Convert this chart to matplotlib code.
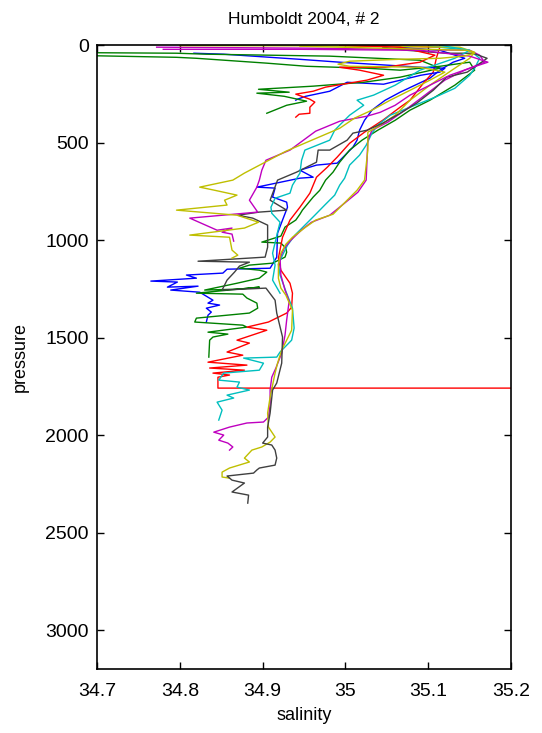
import matplotlib
matplotlib.use('Agg')
import matplotlib.pyplot as plt

# perfiles (salinidad, presion)
blue_a = [(35.033, 0), (35.114, 26), (35.144, 67), (35.130, 87), (35.114, 128), (35.102, 169),
          (35.084, 205), (35.066, 241), (35.048, 282), (35.032, 333), (35.023, 385), (35.017, 436),
          (35.014, 487), (35.009, 523), (34.990, 605), (34.965, 615), (34.945, 641), (34.961, 677),
          (34.945, 682), (34.893, 728), (34.915, 733), (34.912, 779), (34.929, 805), (34.930, 831),
          (34.924, 897), (34.918, 964), (34.917, 1087), (34.909, 1144), (34.857, 1149), (34.852, 1169),
          (34.808, 1179), (34.820, 1195), (34.765, 1210), (34.797, 1215), (34.785, 1241), (34.822, 1236),
          (34.789, 1256), (34.824, 1267), (34.840, 1308), (34.834, 1323), (34.848, 1333), (34.832, 1349),
          (34.838, 1369), (34.834, 1385), (34.832, 1420)]

green_a = [(34.660, 51), (34.796, 62), (34.820, 67), (34.905, 92), (34.953, 108), (35.026, 118),
           (35.066, 128), (35.114, 108), (35.150, 87), (35.156, 128), (35.132, 205), (35.102, 282),
           (35.078, 333), (35.060, 385), (35.039, 436), (35.020, 487), (35.005, 538), (34.993, 600),
           (34.985, 651), (34.976, 692), (34.969, 744), (34.961, 779), (34.948, 846), (34.945, 867),
           (34.940, 897), (34.927, 933), (34.922, 979), (34.899, 1010), (34.922, 1015), (34.928, 1041),
           (34.929, 1062), (34.927, 1087), (34.912, 1118), (34.884, 1128), (34.872, 1144), (34.896, 1154),
           (34.905, 1164), (34.896, 1195), (34.869, 1221), (34.830, 1256), (34.872, 1251), (34.896, 1241),
           (34.820, 1272), (34.876, 1277), (34.881, 1297), (34.893, 1323), (34.894, 1349), (34.884, 1374),
           (34.820, 1400), (34.818, 1420), (34.876, 1436), (34.881, 1446), (34.834, 1472), (34.858, 1482),
           (34.840, 1497), (34.836, 1513), (34.835, 1600)]

red_a = [(35.017, 0), (35.114, 10), (35.110, 62), (35.106, 138), (35.094, 195), (35.078, 282),
         (35.066, 318), (35.045, 385), (35.023, 446), (35.005, 503), (34.990, 574), (34.978, 626),
         (34.965, 677), (34.957, 759), (34.945, 831), (34.933, 897), (34.924, 985), (34.919, 1092),
         (34.922, 1154), (34.933, 1221), (34.936, 1272), (34.935, 1344), (34.929, 1374), (34.907, 1420),
         (34.881, 1446), (34.905, 1462), (34.869, 1513), (34.884, 1528), (34.857, 1574), (34.876, 1590),
         (34.834, 1626), (34.881, 1641), (34.836, 1656), (34.878, 1667), (34.840, 1682), (34.860, 1692),
         (34.846, 1703), (34.846, 1759), (36.500, 1759)]

cyan_a = [(35.102, 5), (35.150, 26), (35.162, 67), (35.156, 118), (35.150, 154), (35.132, 221),
          (35.108, 267), (35.078, 318), (35.054, 359), (35.039, 410), (35.032, 451), (35.025, 513),
          (35.017, 564), (35.005, 615), (34.999, 682), (34.993, 718), (34.987, 769), (34.975, 820),
          (34.963, 872), (34.951, 923), (34.939, 974), (34.930, 1026), (34.924, 1077), (34.919, 1123),
          (34.921, 1179), (34.928, 1262), (34.936, 1349), (34.938, 1451), (34.935, 1513), (34.921, 1574),
          (34.917, 1600), (34.877, 1605), (34.901, 1631), (34.896, 1667), (34.853, 1682), (34.847, 1718),
          (34.872, 1728), (34.869, 1754), (34.884, 1769), (34.857, 1795), (34.865, 1810), (34.845, 1831),
          (34.851, 1872), (34.847, 1923)]

magenta_a = [(34.772, 10), (34.953, 15), (35.150, 26), (35.162, 51), (35.168, 87), (35.144, 128),
             (35.120, 179), (35.096, 256), (35.072, 333), (35.051, 395), (35.032, 436), (35.027, 487),
             (35.026, 590), (35.025, 692), (35.015, 754), (34.999, 810), (34.981, 872), (34.959, 908),
             (34.948, 944), (34.934, 1000), (34.926, 1041), (34.921, 1092), (34.922, 1179), (34.927, 1256),
             (34.932, 1313), (34.929, 1410), (34.927, 1487), (34.923, 1579), (34.916, 1656), (34.911, 1703),
             (34.909, 1769), (34.909, 1846), (34.907, 1908), (34.901, 1933), (34.881, 1938), (34.860, 1959),
             (34.841, 1985), (34.853, 2000), (34.847, 2026), (34.858, 2041), (34.864, 2061), (34.860, 2077)]

yellow_a = [(34.800, 2), (34.953, 3), (35.138, 10), (35.156, 36), (35.150, 67), (35.132, 118),
            (35.102, 205), (35.078, 282), (35.060, 359), (35.042, 410), (35.027, 446), (35.027, 538),
            (35.025, 615), (35.023, 692), (35.014, 744), (35.002, 795), (34.985, 867), (34.964, 897),
            (34.952, 933), (34.936, 985), (34.928, 1021), (34.922, 1067), (34.919, 1123), (34.919, 1195),
            (34.922, 1246), (34.928, 1282), (34.936, 1359), (34.935, 1462), (34.929, 1513), (34.923, 1564),
            (34.918, 1631), (34.915, 1682), (34.909, 1805), (34.906, 1887), (34.907, 1959), (34.915, 2010),
            (34.909, 2036), (34.899, 2061), (34.887, 2077), (34.878, 2118), (34.884, 2138), (34.860, 2169),
            (34.851, 2190), (34.851, 2215), (34.860, 2221)]

black_a = [(35.045, 10), (35.074, 26), (35.122, 41), (35.154, 41), (35.171, 67), (35.159, 103),
           (35.147, 138), (35.122, 164), (35.106, 231), (35.086, 297), (35.066, 349), (35.045, 400),
           (35.026, 436), (35.009, 451), (35.002, 487), (34.981, 538), (34.967, 538), (34.965, 600),
           (34.941, 651), (34.918, 692), (34.909, 795), (34.929, 846), (34.896, 856), (34.870, 872),
           (34.888, 887), (34.906, 923), (34.906, 1036), (34.903, 1087), (34.822, 1108), (34.884, 1113),
           (34.872, 1133), (34.866, 1164), (34.857, 1205), (34.851, 1256), (34.878, 1251), (34.904, 1246),
           (34.915, 1308), (34.917, 1374), (34.924, 1497), (34.923, 1631), (34.917, 1733), (34.912, 1769),
           (34.909, 1887), (34.906, 1959), (34.906, 2010), (34.900, 2041), (34.911, 2051), (34.915, 2077),
           (34.917, 2118), (34.915, 2154), (34.896, 2169), (34.893, 2179), (34.889, 2195), (34.857, 2210),
           (34.863, 2231), (34.878, 2246), (34.863, 2292), (34.883, 2308), (34.882, 2349)]

blue_b = [(34.817, 41), (34.853, 46), (34.944, 72), (34.993, 87), (35.091, 113), (35.120, 118),
          (35.114, 138), (35.091, 154), (35.046, 200), (35.002, 190), (34.981, 236), (34.952, 262),
          (34.942, 277), (34.940, 282)]

green_b = [(34.600, 36), (34.796, 41), (34.832, 46), (34.981, 56), (35.090, 77), (35.114, 118),
           (35.066, 164), (35.022, 190), (34.961, 210), (34.895, 226), (34.932, 241), (34.893, 246),
           (34.926, 262), (34.953, 287), (34.929, 308), (34.905, 349)]

red_b = [(34.993, 0), (35.066, 10), (35.108, 51), (35.090, 87), (35.048, 113), (34.993, 113),
         (35.017, 128), (35.046, 154), (35.026, 179), (34.997, 200), (34.976, 215), (34.961, 236),
         (34.940, 251), (34.957, 277), (34.963, 292), (34.957, 318), (34.957, 349), (34.944, 354),
         (34.940, 369)]

cyan_b = [(35.114, 0), (35.150, 26), (35.132, 67), (35.090, 128), (35.060, 205), (35.034, 256),
          (35.014, 282), (35.022, 308), (35.005, 359), (34.993, 410), (34.987, 436), (34.981, 487),
          (34.951, 538), (34.947, 590), (34.945, 656), (34.936, 718), (34.933, 759), (34.915, 785),
          (34.910, 831), (34.911, 862), (34.921, 908), (34.918, 959), (34.912, 1067), (34.915, 1128),
          (34.912, 1205), (34.921, 1272)]

magenta_b = [(34.780, 21), (34.945, 21), (35.090, 26), (35.150, 56), (35.172, 87), (35.150, 118),
             (35.126, 154), (35.102, 205), (35.078, 256), (35.060, 308), (35.042, 344), (35.026, 364),
             (34.993, 390), (34.964, 441), (34.933, 538), (34.904, 590), (34.899, 641), (34.896, 692),
             (34.893, 728), (34.884, 795), (34.894, 856), (34.812, 887), (34.845, 949), (34.863, 938),
             (34.851, 959), (34.863, 969), (34.865, 1005)]

yellow_b = [(34.945, 5), (35.147, 26), (35.156, 41), (35.143, 56), (35.114, 67), (35.066, 72),
            (35.005, 82), (34.991, 97), (35.005, 108), (35.090, 113), (35.120, 138), (35.102, 179),
            (35.078, 231), (35.054, 282), (35.032, 333), (35.011, 374), (34.993, 426), (34.928, 544),
            (34.878, 656), (34.864, 692), (34.824, 728), (34.842, 744), (34.869, 769), (34.854, 795),
            (34.857, 820), (34.796, 846), (34.869, 872), (34.895, 908), (34.878, 938), (34.812, 974),
            (34.860, 985), (34.863, 1051), (34.870, 1077), (34.863, 1092)]

# colores por defecto de matlab (b, g, r, c, m, y, k)
perfiles = [
    (blue_a, (0, 0, 1)), (green_a, (0, 0.5, 0)), (red_a, (1, 0, 0)),
    (cyan_a, (0, 0.75, 0.75)), (magenta_a, (0.75, 0, 0.75)), (yellow_a, (0.75, 0.75, 0)),
    (black_a, (0.25, 0.25, 0.25)),
    (blue_b, (0, 0, 1)), (green_b, (0, 0.5, 0)), (red_b, (1, 0, 0)),
    (cyan_b, (0, 0.75, 0.75)), (magenta_b, (0.75, 0, 0.75)), (yellow_b, (0.75, 0.75, 0)),
]

sal_ticks = [34.7, 34.8, 34.9, 35.0, 35.1, 35.2]
sal_labels = ['34.7', '34.8', '34.9', '35', '35.1', '35.2']
pres_ticks = [0, 500, 1000, 1500, 2000, 2500, 3000]

plt.rcParams['font.family'] = ['Liberation Sans', 'DejaVu Sans']

fig = plt.figure(figsize=(5.42, 7.33), dpi=100)
ax = fig.add_axes([0.179, 0.0873, 0.764, 0.851])

for datos, color in perfiles:
    s, p = zip(*datos)
    ax.plot(s, p, color=color, lw=1.0)

ax.set_xlim(34.7, 35.2)
ax.set_ylim(3200, 0)
ax.set_xticks(sal_ticks)
ax.set_xticklabels(sal_labels)
ax.set_yticks(pres_ticks)
ax.tick_params(direction='in', top=True, right=True, length=5, width=1, labelsize=14)
ax.tick_params(axis='x', pad=10)
ax.tick_params(axis='y', pad=6)
for sp in ax.spines.values():
    sp.set_linewidth(1.2)

ax.set_title('Humboldt 2004, # 2', fontsize=12.5, pad=15)
ax.set_xlabel('salinity', fontsize=13, labelpad=5)
ax.set_ylabel('pressure', fontsize=13, labelpad=12)

fig.savefig('out.png', dpi=100)
